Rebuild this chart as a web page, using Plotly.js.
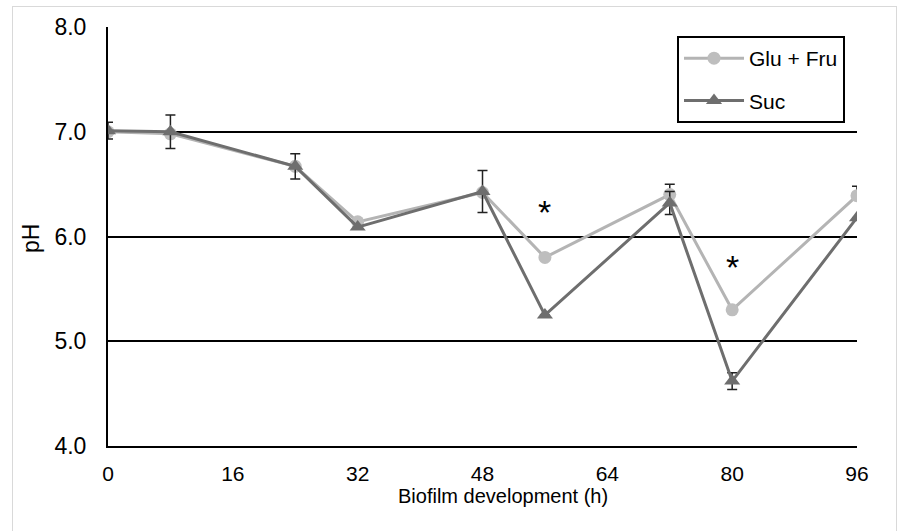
<!DOCTYPE html>
<html>
<head>
<meta charset="utf-8">
<script src="https://cdn.plot.ly/plotly-3.0.1.min.js"></script>
<style>
html,body{margin:0;padding:0;background:#fff;}
#frame{position:absolute;left:12px;top:6px;width:885px;height:540px;border:1px solid #d9d9d9;box-sizing:border-box;pointer-events:none;z-index:5;}
#chart{width:906px;height:531px;}
</style>
</head>
<body>
<div id="frame"></div>
<div id="chart"></div>
<script>
const hours = [0, 8, 24, 32, 48, 56, 72, 80, 96];
const gluFru = [7.00, 6.98, 6.67, 6.14, 6.42, 5.80, 6.40, 5.30, 6.39];
const gluFruErrPlus = [0, 0, 0, 0, 0, 0, 0.10, 0, 0.09];
const gluFruErrMinus = [0, 0, 0, 0, 0, 0, 0, 0, 0];
const suc = [7.01, 7.00, 6.67, 6.09, 6.43, 5.25, 6.32, 4.62, 6.18];
const sucErr = [0.08, 0.16, 0.12, 0, 0.20, 0, 0.11, 0.08, 0];
const yTicks = [4, 5, 6, 7, 8];
const xTicks = [0, 16, 32, 48, 64, 80, 96];
const starHours = [56, 80];
const starPH = [6.23, 5.71];

const font = "Liberation Sans, Arial, sans-serif";

const traces = [
  {
    x: hours, y: gluFru, name: "Glu + Fru", mode: "lines+markers", legendgroup: "a",
    line: {color: "#b4b4b4", width: 3},
    marker: {symbol: "circle", size: 13, color: "#bebebe"},
    error_y: {type: "data", symmetric: false, array: gluFruErrPlus, arrayminus: gluFruErrMinus,
              visible: true, color: "#222", thickness: 1.5, width: 5}
  },
  {
    x: hours, y: suc, name: "Suc", mode: "lines+markers", legendgroup: "b",
    line: {color: "#6e6e6e", width: 3},
    marker: {symbol: "triangle-up", size: 14, color: "#6e6e6e"},
    error_y: {type: "data", array: sucErr, visible: true, color: "#222", thickness: 1.5, width: 5}
  }
];

const layout = {
  width: 906, height: 531,
  margin: {l: 108, r: 49, t: 27, b: 85},
  paper_bgcolor: "#fff", plot_bgcolor: "#fff",
  font: {family: font, size: 20, color: "#000"},
  showlegend: true,
  legend: {
    x: 0.7597, y: 0.9785, xanchor: "left", yanchor: "top",
    bordercolor: "#000", borderwidth: 2, bgcolor: "#fff",
    font: {family: font, size: 21, color: "#000"},
    tracegroupgap: 12, itemwidth: 60
  },
  xaxis: {
    range: [0, 96], tickvals: xTicks, ticktext: xTicks.map(String),
    showgrid: false, zeroline: false, showline: true, linecolor: "#000", linewidth: 2,
    ticks: "", ticklabelstandoff: 8,
    tickfont: {family: font, size: 21}
  },
  yaxis: {
    range: [4, 8], tickvals: yTicks, ticktext: yTicks.map(v => v.toFixed(1)),
    showgrid: true, gridcolor: "#000", gridwidth: 2,
    zeroline: false, showline: true, linecolor: "#000", linewidth: 2,
    ticks: "", ticklabelstandoff: 15,
    tickfont: {family: font, size: 23}
  },
  annotations: starHours.map((h, i) => ({
    x: h, y: starPH[i], xref: "x", yref: "y", text: "*", showarrow: false,
    font: {family: font, size: 34, color: "#000"}
  })).concat([
    {x: 0.527, y: -0.119, xref: "paper", yref: "paper", xanchor: "center", yanchor: "middle",
     text: "Biofilm development (h)", showarrow: false, font: {family: font, size: 20, color: "#000"}},
    {x: -0.1028, y: 0.494, xref: "paper", yref: "paper", xanchor: "center", yanchor: "middle",
     text: "pH", textangle: -90, showarrow: false, font: {family: font, size: 23, color: "#000"}}
  ])
};

Plotly.newPlot("chart", traces, layout, {displayModeBar: false, staticPlot: true});
</script>
</body>
</html>
